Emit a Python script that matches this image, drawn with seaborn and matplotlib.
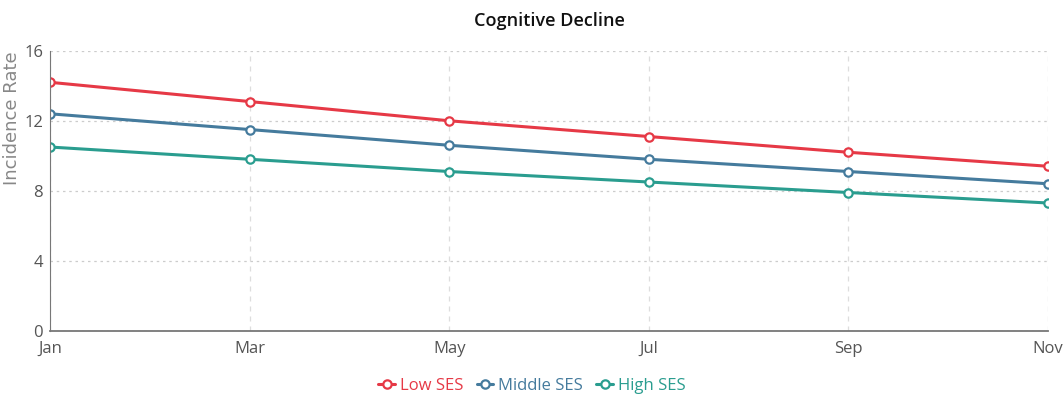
import pandas as pd
import seaborn as sns
import matplotlib.pyplot as plt

# values
months = ['Jan', 'Mar', 'May', 'Jul', 'Sep', 'Nov']
low_ses = [14.2, 13.1, 12.0, 11.1, 10.2, 9.4]
middle_ses = [12.4, 11.5, 10.6, 9.8, 9.1, 8.4]
high_ses = [10.5, 9.8, 9.1, 8.5, 7.9, 7.3]
groups = ['Low SES', 'Middle SES', 'High SES']
colors = ['#e63946', '#457b9d', '#2a9d8f']

df = pd.DataFrame({
    'Month': months * 3,
    'Rate': low_ses + middle_ses + high_ses,
    'Group': [g for g in groups for _ in months],
})

sns.set_style('white')
plt.rcParams['font.family'] = ['Open Sans', 'DejaVu Sans']

fig = plt.figure(figsize=(10.64, 3.97), dpi=100)
ax = fig.add_axes([0.047, 0.167, 0.938, 0.705])

sns.lineplot(data=df, x='Month', y='Rate', hue='Group', palette=colors,
             marker='o', markersize=6, markerfacecolor='white',
             markeredgewidth=1.6, linewidth=2.2, ax=ax, legend=False)
# give the hollow markers an edge in the line colour
for line in ax.lines:
    line.set_markeredgecolor(line.get_color())
    line.set_markerfacecolor('white')

ax.set_xlim(0, len(months) - 1)
ax.set_ylim(0, 16)
ax.set_yticks([0, 4, 8, 12, 16])
ax.set_xlabel('')
ax.set_ylabel('Incidence Rate', color='#888888', fontsize=13)
ax.yaxis.label.set_family('DejaVu Sans')
ax.yaxis.set_label_coords(-0.029, 0.76)
ax.set_title('Cognitive Decline', fontsize=13, color='#111111', pad=18,
             fontweight='semibold')

ax.grid(axis='y', linestyle=(0, (2, 3)), color='#cccccc', linewidth=0.9)
ax.grid(axis='x', linestyle=(0, (4, 4)), color='#dddddd', linewidth=0.9)
for s in ['top', 'right']:
    ax.spines[s].set_visible(False)
for s in ['left', 'bottom']:
    ax.spines[s].set_color('#777777')
ax.spines['bottom'].set_linewidth(1.3)
ax.tick_params(axis='both', length=4, color='#777777', labelcolor='#555555',
               labelsize=12, direction='out')
ax.tick_params(axis='y', pad=1)

handles = [plt.Line2D([0], [0], color=c, marker='o', markerfacecolor='white',
                      markeredgecolor=c, markeredgewidth=1.6, linewidth=2.2,
                      markersize=6)
           for c in colors]
leg = fig.legend(handles, groups, loc='lower center', ncol=3, frameon=False,
                 bbox_to_anchor=(0.5, -0.03), fontsize=12, handlelength=1.0,
                 handletextpad=0.3, columnspacing=0.8)
for t, c in zip(leg.get_texts(), colors):
    t.set_color(c)

fig.savefig('out.png', dpi=100)
